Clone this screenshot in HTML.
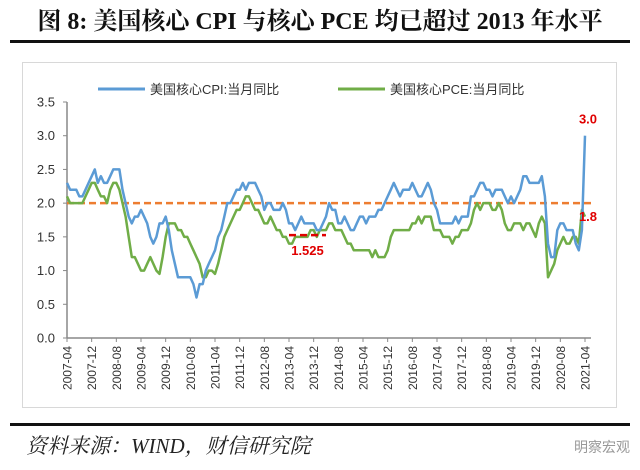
<!DOCTYPE html>
<html><head><meta charset="utf-8"><style>
body{margin:0;background:#fff;width:640px;height:470px;overflow:hidden}
svg{display:block}
</style></head><body>
<svg id="c" width="640" height="470" xmlns="http://www.w3.org/2000/svg">
<text x="320" y="29" text-anchor="middle" font-family="'Liberation Serif','Noto Serif CJK SC',serif" font-weight="bold" font-size="24" fill="#111">图 8: 美国核心 CPI 与核心 PCE 均已超过 2013 年水平</text>
<rect x="10" y="40" width="620" height="3" fill="#111"/>
<rect x="22.5" y="62.5" width="594" height="345" fill="none" stroke="#d8d8d8"/>
<g>
<line x1="98" y1="89" x2="145" y2="89" stroke="#5b9bd5" stroke-width="3"/>
<text x="150" y="94" font-family="'Liberation Sans','Noto Sans CJK SC',sans-serif" font-size="13" fill="#333">美国核心CPI:当月同比</text>
<line x1="338" y1="89" x2="385" y2="89" stroke="#70ad47" stroke-width="3"/>
<text x="390" y="94" font-family="'Liberation Sans','Noto Sans CJK SC',sans-serif" font-size="13" fill="#333">美国核心PCE:当月同比</text>
</g>
<g id="axes"></g>
<g id="series"></g>
<rect x="10" y="423" width="620" height="3" fill="#111"/>
<text x="26" y="453" font-family="'Liberation Serif','Noto Serif CJK SC',serif" font-style="italic" font-size="21" fill="#222">资料来源：WIND，财信研究院</text>
<text x="630" y="452" text-anchor="end" font-family="'Liberation Sans','Noto Sans CJK SC',sans-serif" font-size="14" fill="#999">明察宏观</text>
</svg>
<script>
const tickLabels=["2007-04","2007-12","2008-08","2009-04","2009-12","2010-08","2011-04","2011-12","2012-08","2013-04","2013-12","2014-08","2015-04","2015-12","2016-08","2017-04","2017-12","2018-08","2019-04","2019-12","2020-08","2021-04"];
const yTicks=[0,0.5,1,1.5,2,2.5,3,3.5];
const cpi=[2.3,2.2,2.2,2.2,2.1,2.1,2.2,2.3,2.4,
2.5,2.3,2.4,2.3,2.3,2.4,2.5,2.5,2.5,2.2,2.0,1.8,
1.7,1.8,1.8,1.9,1.8,1.7,1.5,1.4,1.5,1.7,1.7,1.8,
1.6,1.3,1.1,0.9,0.9,0.9,0.9,0.9,0.8,0.6,0.8,0.8,
1.0,1.1,1.2,1.3,1.5,1.6,1.8,2.0,2.0,2.1,2.2,2.2,
2.3,2.2,2.3,2.3,2.3,2.2,2.1,1.9,2.0,2.0,1.9,1.9,
1.9,2.0,1.9,1.7,1.7,1.6,1.7,1.8,1.7,1.7,1.7,1.7,
1.6,1.6,1.7,1.8,2.0,1.9,1.9,1.7,1.7,1.8,1.7,1.6,
1.6,1.7,1.8,1.8,1.7,1.8,1.8,1.8,1.9,1.9,2.0,2.1,
2.2,2.3,2.2,2.1,2.2,2.2,2.2,2.3,2.2,2.1,2.1,2.2,
2.3,2.2,2.0,1.9,1.7,1.7,1.7,1.7,1.7,1.8,1.7,1.8,
1.8,1.8,2.1,2.1,2.2,2.3,2.3,2.2,2.2,2.1,2.2,2.2,
2.2,2.1,2.0,2.1,2.0,2.1,2.2,2.4,2.4,2.3,2.3,2.3,
2.3,2.4,2.1,1.4,1.2,1.2,1.6,1.7,1.7,1.6,1.6,1.6,
1.4,1.3,1.6,3.0];
const pce=[2.1,2.0,2.0,2.0,2.0,2.0,2.1,2.2,2.3,
2.3,2.2,2.1,2.1,2.0,2.2,2.3,2.3,2.2,2.0,1.8,1.5,
1.2,1.2,1.1,1.0,1.0,1.1,1.2,1.1,1.0,0.95,1.2,1.5,
1.7,1.7,1.7,1.6,1.6,1.5,1.5,1.4,1.3,1.2,1.1,0.9,
0.9,1.0,1.0,0.95,1.1,1.3,1.5,1.6,1.7,1.8,1.9,1.9,
2.0,2.1,2.1,2.0,1.9,1.9,1.8,1.7,1.7,1.8,1.7,1.6,
1.6,1.5,1.5,1.4,1.4,1.5,1.5,1.5,1.5,1.5,1.6,1.6,
1.5,1.6,1.6,1.6,1.7,1.7,1.6,1.6,1.6,1.5,1.4,1.4,
1.3,1.3,1.3,1.3,1.3,1.3,1.2,1.3,1.2,1.2,1.2,1.3,
1.5,1.6,1.6,1.6,1.6,1.6,1.6,1.7,1.7,1.8,1.7,1.8,
1.8,1.8,1.6,1.6,1.6,1.5,1.5,1.5,1.4,1.5,1.5,1.6,
1.6,1.6,1.7,1.9,2.0,1.9,2.0,2.0,2.0,1.9,1.9,2.0,
1.9,1.7,1.6,1.6,1.7,1.7,1.7,1.6,1.7,1.7,1.6,1.5,
1.7,1.8,1.7,0.9,1.0,1.1,1.3,1.4,1.5,1.4,1.4,1.5,
1.5,1.4,1.9,1.8];
const refLevel=2.0, low2013=1.525;
const NS="http://www.w3.org/2000/svg";
const X0=67,X1=585,Y0=338,Y1=102,yMax=3.5,nMonths=168;
const xs=i=>X0+(X1-X0)*i/nMonths;
const ys=v=>Y0-(Y0-Y1)*v/yMax;
function mk(tag,attrs,parent){const e=document.createElementNS(NS,tag);for(const k in attrs)e.setAttribute(k,attrs[k]);parent.appendChild(e);return e;}
const axes=document.getElementById('axes'),ser=document.getElementById('series');
let el=mk('line',{x1:X0,y1:Y1,x2:X0,y2:Y0,stroke:'#888','stroke-width':1.5},axes);


el=mk('line',{x1:X0,y1:Y0,x2:X1+6,y2:Y0,stroke:'#888','stroke-width':1.5},axes);


yTicks.forEach(v=>{
 const t=mk('line',{x1:X0-4,y1:ys(v),x2:X0,y2:ys(v),stroke:'#888'},axes);
 
 
 const l=mk('text',{x:X0-12,y:ys(v)+4.5,'text-anchor':'end','font-family':'Liberation Sans,sans-serif','font-size':13,fill:'#333'},axes);
 l.textContent=v.toFixed(1);
 
 
});
tickLabels.forEach((s,i)=>{
 const x=xs(i*8);
 const t=mk('line',{x1:x,y1:Y0,x2:x,y2:Y0+4,stroke:'#888'},axes);
 
 
 const l=mk('text',{x:0,y:0,'text-anchor':'end','font-family':'Liberation Sans,sans-serif','font-size':12,fill:'#333',transform:`translate(${x+4.5},${Y0+8}) rotate(-90)`},axes);
 l.textContent=s;
 
 
});
el=mk('line',{x1:X0,y1:ys(refLevel),x2:X1+7,y2:ys(refLevel),stroke:'#ed7d31','stroke-width':2.5,'stroke-dasharray':'7,4'},ser);


function path(arr,color,name){
 const d=arr.map((v,i)=>(i?'L':'M')+xs(i).toFixed(1)+','+ys(v).toFixed(1)).join('');
 const p=mk('path',{d:d,fill:'none',stroke:color,'stroke-width':2.5,'stroke-linejoin':'round'},ser);
 
 
}
path(pce,'#70ad47','core-pce-line');
path(cpi,'#5b9bd5','core-cpi-line');
el=mk('line',{x1:xs(72),y1:ys(low2013),x2:xs(84),y2:ys(low2013),stroke:'#e00000','stroke-width':2.5,'stroke-dasharray':'7,4'},ser);


function lab(x,y,txt,name){const t=mk('text',{x:x,y:y,'text-anchor':'middle','font-family':'Liberation Sans,sans-serif','font-weight':'bold','font-size':13,fill:'#e00000'},ser);t.textContent=txt;
 
 }
lab(xs(78),ys(low2013)+20,'1.525','annotation-1525');
lab(xs(168)+3,ys(cpi[cpi.length-1])-12,'3.0','annotation-cpi-latest');
lab(xs(168)+3,ys(refLevel)+18,'1.8','annotation-pce-latest');
</script>
</body></html>
